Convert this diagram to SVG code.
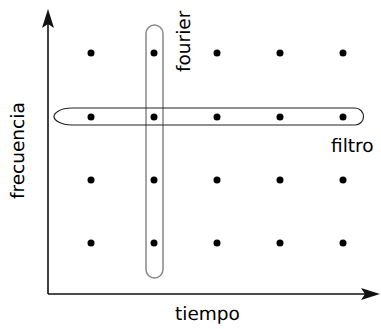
<svg xmlns="http://www.w3.org/2000/svg" width="381" height="329" viewBox="0 0 381 329">
<style>
.dot{fill:#000}
.lbl{font-family:"DejaVu Sans",sans-serif;font-size:18.5px;fill:#000;text-rendering:geometricPrecision}
.axis{stroke:#111;stroke-width:1.6;fill:none}
.head{fill:#111}
</style>
<rect width="381" height="329" fill="#fff"/>
<g id="connectors">
<line class="axis" x1="48" y1="294" x2="48" y2="20"/>
<path class="head" d="M48,9 L54,28 L48,24 L42,28 Z"/>
<line class="axis" x1="48" y1="294" x2="370" y2="294"/>
<path class="head" d="M380,294 L361,288 L365,294 L361,300 Z"/>
</g>
<g id="fourier-band">
<rect x="146" y="25" width="17" height="253" rx="8.5" ry="8.5" fill="none" stroke="#888" stroke-width="1.5"/>
</g>
<g id="filtro-band">
<path d="M72,108 L355,108 A8.5,8.5 0 0 1 355,125 L72,125 C60,125 54,120 54,116.5 C54,113 60,108 72,108 Z" fill="none" stroke="#222" stroke-width="1.2"/>
</g>
<g id="dots">
<circle class="dot" cx="91" cy="53" r="3.5"/><circle class="dot" cx="154" cy="53" r="3.5"/><circle class="dot" cx="217" cy="53" r="3.5"/><circle class="dot" cx="280" cy="53" r="3.5"/><circle class="dot" cx="343" cy="53" r="3.5"/>
<circle class="dot" cx="91" cy="117" r="3.5"/><circle class="dot" cx="154" cy="117" r="3.5"/><circle class="dot" cx="217" cy="117" r="3.5"/><circle class="dot" cx="280" cy="117" r="3.5"/><circle class="dot" cx="343" cy="117" r="3.5"/>
<circle class="dot" cx="91" cy="180" r="3.5"/><circle class="dot" cx="154" cy="180" r="3.5"/><circle class="dot" cx="217" cy="180" r="3.5"/><circle class="dot" cx="280" cy="180" r="3.5"/><circle class="dot" cx="343" cy="180" r="3.5"/>
<circle class="dot" cx="91" cy="243" r="3.5"/><circle class="dot" cx="154" cy="243" r="3.5"/><circle class="dot" cx="217" cy="243" r="3.5"/><circle class="dot" cx="280" cy="243" r="3.5"/><circle class="dot" cx="343" cy="243" r="3.5"/>
</g>
<g id="labels">
<text class="lbl" transform="translate(190,72) rotate(-90)">fourier</text>
<text class="lbl" x="331" y="152">filtro</text>
<text class="lbl" transform="translate(24,199) rotate(-90)">frecuencia</text>
<text class="lbl" x="175" y="320">tiempo</text>
</g>
</svg>
